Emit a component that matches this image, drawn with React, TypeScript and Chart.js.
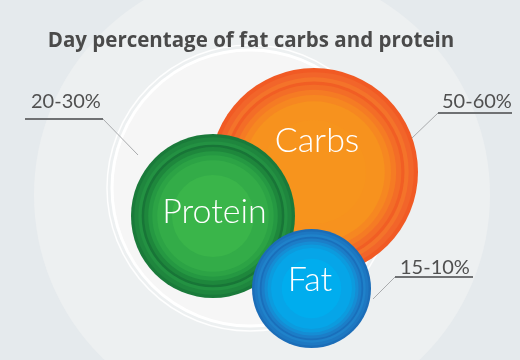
import React, { useEffect, useRef } from "react";
import { Chart, registerables } from "chart.js";

Chart.register(...registerables);

// ---- data ----
const categories = ["Carbs", "Protein", "Fat"];
const shares = ["50-60%", "20-30%", "15-10%"];
const bubbleX = [314, 213, 311.5];
const bubbleY = [172, 216, 288.5];
const bubbleR = [104, 82, 59.5];

// concentric ring bands (fraction of radius) and colours per category
const ringFractions = [1.0, 0.96, 0.91, 0.87, 0.84, 0.79, 0.74, 0.68, 0.5];
const carbsColors = ["#f15a24", "#f2652a", "#f4732a", "#f15e24", "#f36d27", "#f57b24", "#f68721", "#f7921e", "#f7941d"];
const proteinColors = ["#1a7a3a", "#1f863e", "#239142", "#187537", "#1e873c", "#259842", "#2ca345", "#33ac48", "#3ab54a"];
const fatColors = ["#1b6db8", "#1d78c2", "#1f82ca", "#196fbb", "#1b7ec8", "#158dd4", "#0c9bde", "#06a5e8", "#00adee"];
const ringColors = [carbsColors, proteinColors, fatColors];

// labels inside bubbles
const labelX = [317, 214.5, 310];
const labelY = [152, 223, 291];

// share callouts: text anchor + leader polyline
const shareTextX = [442, 31, 400];
const shareTextY = [108, 108, 274];
const leaderLines = [
  [[512, 113], [438, 113], [412, 138]],
  [[25, 119], [103, 119], [138, 155]],
  [[473, 277], [395, 277], [373, 299]],
];

const titleText = "Day percentage of fat carbs and protein";

export default function App() {
  const ref = useRef<HTMLCanvasElement | null>(null);

  useEffect(() => {
    if (!ref.current) return;
    const drawList: any[] = [];
    // background disc
    drawList.push({
      data: [{ x: 262, y: 195, r: 228 }],
      backgroundColor: "#edf0f1",
      borderWidth: 0,
    });
    drawList.push({
      data: [{ x: 250, y: 188, r: 143 }],
      backgroundColor: "rgba(0,0,0,0)",
      borderColor: "rgba(255,255,255,0.9)",
      borderWidth: 1.5,
    });
    drawList.push({
      data: [{ x: 250, y: 188, r: 138 }],
      backgroundColor: "#f6f6f6",
      borderColor: "#ffffff",
      borderWidth: 3,
    });
    categories.forEach((c, i) => {
      ringFractions.forEach((f, k) => {
        drawList.push({
          label: c,
          data: [{ x: bubbleX[i], y: bubbleY[i], r: bubbleR[i] * f }],
          backgroundColor: ringColors[i][k],
          borderWidth: 0,
        });
      });
    });
    const total = drawList.length;
    const datasets = drawList.map((d, idx) => ({
      ...d,
      order: total - idx,
      clip: false,
      hoverRadius: 0,
    }));

    const overlay = {
      id: "overlay",
      beforeDraw(chart: any) {
        const { ctx, width, height } = chart;
        ctx.save();
        ctx.fillStyle = "#e5eaed";
        ctx.fillRect(0, 0, width, height);
        ctx.restore();
      },
      afterDatasetsDraw(chart: any) {
        const { ctx } = chart;
        const xs = chart.scales.x;
        const ys = chart.scales.y;
        const px = (v: number) => xs.getPixelForValue(v);
        const py = (v: number) => ys.getPixelForValue(v);
        ctx.save();
        // title
        ctx.fillStyle = "#4a4a4a";
        ctx.textAlign = "center";
        ctx.textBaseline = "alphabetic";
        ctx.font = 'bold 20px "Open Sans"';
        const w = ctx.measureText(titleText).width;
        const size = Math.max(16, Math.min(24, (20 * 406) / w));
        ctx.font = `bold ${size.toFixed(1)}px "Open Sans"`;
        ctx.fillText(titleText, px(251), py(47));
        // bubble names
        ctx.fillStyle = "#ffffff";
        ctx.font = "300 34px Lato";
        categories.forEach((c, i) => {
          ctx.fillText(c, px(labelX[i]), py(labelY[i]));
        });
        // leader lines
        leaderLines.forEach((pts) => {
          ctx.strokeStyle = "#a9abad";
          ctx.lineWidth = 1;
          ctx.beginPath();
          ctx.moveTo(px(pts[1][0]), py(pts[1][1]));
          ctx.lineTo(px(pts[2][0]), py(pts[2][1]));
          ctx.stroke();
          ctx.strokeStyle = "#6f7173";
          ctx.lineWidth = 2;
          ctx.beginPath();
          ctx.moveTo(px(pts[0][0]), py(pts[0][1]));
          ctx.lineTo(px(pts[1][0]), py(pts[1][1]));
          ctx.stroke();
        });
        // share labels
        ctx.fillStyle = "#505050";
        ctx.font = "20px Lato";
        ctx.textAlign = "left";
        shares.forEach((s, i) => {
          ctx.fillText(s, px(shareTextX[i]), py(shareTextY[i]));
        });
        ctx.restore();
      },
    };

    const chart = new Chart(ref.current, {
      type: "bubble",
      data: { datasets },
      options: {
        animation: false,
        responsive: false,
        events: [],
        layout: { padding: 0, autoPadding: false },
        plugins: { legend: { display: false }, tooltip: { enabled: false }, title: { display: false } },
        scales: {
          x: { type: "linear", min: 0, max: 520, display: false },
          y: { type: "linear", min: 0, max: 360, reverse: true, display: false },
        },
      },
      plugins: [overlay],
    });
    return () => chart.destroy();
  }, []);

  return (
    <canvas
      ref={ref}
      width={520}
      height={360}
      style={{ position: "fixed", left: 0, top: 0, display: "block", width: 520, height: 360 }}
    />
  );
}
